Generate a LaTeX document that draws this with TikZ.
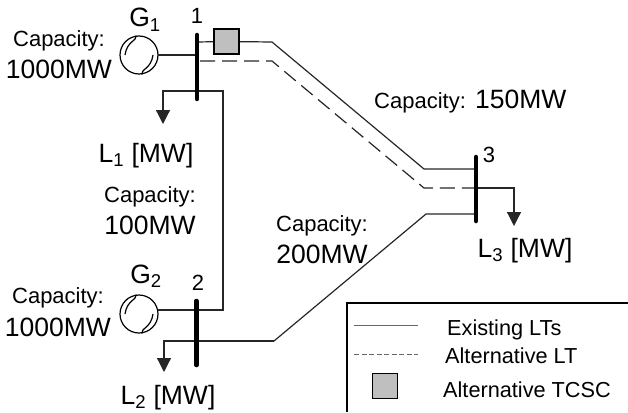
\documentclass[tikz,border=0pt]{standalone}
\usepackage{fontspec}
\setmainfont{Liberation Sans}
\usetikzlibrary{arrows.meta,calc}

\tikzset{
  line/.style={line width=1.2pt, black!85},
  altline/.style={line width=1.2pt, black!85, dash pattern=on 15pt off 7pt},
  busbar/.style={line width=4.5pt, line cap=round},
  load/.style={line, -{Triangle[length=14pt,width=14pt]}},
  gen/.style={draw, circle, line width=1.2pt, minimum size=38pt, inner sep=0pt},
  wave/.style={line width=1.2pt},
  tcsc/.style={draw, line width=1.3pt, fill=black!25, minimum size=25pt, inner sep=0pt},
  smalltxt/.style={font=\fontsize{22}{22}\selectfont, anchor=base, inner sep=0pt},
  bigtxt/.style={font=\fontsize{26.5}{26}\selectfont, anchor=base, inner sep=0pt},
  legtxt/.style={font=\fontsize{21.7}{22}\selectfont, anchor=base west, inner sep=0pt}
}

\begin{document}
\begin{tikzpicture}[x=1pt, y=-1pt, >=Latex]
  \useasboundingbox (0,0) rectangle (628,412);
  % generators
  \node[gen] (G1) at (139,55) {};
  \node[gen] (G2) at (139,314) {};
  \draw[wave] ($(G1)+(-14,0)$) .. controls ($(G1)+(-12,-14)$) and ($(G1)+(-2,-14)$) .. (G1)
    .. controls ($(G1)+(2,14)$) and ($(G1)+(12,14)$) .. ($(G1)+(14,0)$);
  \draw[wave] ($(G2)+(-14,0)$) .. controls ($(G2)+(-12,-14)$) and ($(G2)+(-2,-14)$) .. (G2)
    .. controls ($(G2)+(2,14)$) and ($(G2)+(12,14)$) .. ($(G2)+(14,0)$);
  % buses
  \coordinate (B1t) at (197,35);
  \coordinate (B1b) at (197,99);
  \coordinate (B2t) at (196.5,301);
  \coordinate (B2b) at (196.5,365);
  \coordinate (B3t) at (476,157);
  \coordinate (B3b) at (476,221);
  % lines
  \node[tcsc] (TC) at (226.5,41.5) {};
  \draw[line] (197,42) -- (TC);
  \draw[line] (TC) -- (272,42) -- (424,169) -- (476,169);
  \draw[altline] (200,61) -- (272,61) -- (424,188) -- (476,188);
  \draw[line] (158,55) -- (197,55);
  \draw[line] (197,91) -- (223,91) -- (223,310) -- (158,310);
  \draw[line] (476,214) -- (426,214) -- (274,341) -- (197,341);
  % loads
  \draw[load] (197,91) -- (163,91) -- (163,124);
  \draw[load] (274,341) -- (164,341) -- (164,372);
  \draw[load] (476,188) -- (514,188) -- (514,226);
  \draw[busbar] (B1t) -- (B1b);
  \draw[busbar] (B2t) -- (B2b);
  \draw[busbar] (B3t) -- (B3b);
  % labels
  \node[smalltxt] (cap1) at (59,47) {Capacity:};
  \node[bigtxt] (mw1) at (59,78) {1000MW};
  \node[bigtxt] (nG1) at (145,27) {G\textsubscript{1}};
  \node[smalltxt] (n1) at (197,24) {1};
  \node[bigtxt] (nL1) at (146,162) {L\textsubscript{1} [MW]};
  \node[smalltxt] (cap12) at (150,202) {Capacity:};
  \node[bigtxt] (mw12) at (150,234) {100MW};
  \node[smalltxt] (cap2) at (58,303) {Capacity:};
  \node[bigtxt] (mw2) at (58,336) {1000MW};
  \node[bigtxt] (nG2) at (146,283) {G\textsubscript{2}};
  \node[smalltxt] (n2) at (198,290) {2};
  \node[bigtxt] (nL2) at (168,404) {L\textsubscript{2} [MW]};
  \node[smalltxt] (cap23) at (322,231) {Capacity:};
  \node[bigtxt] (mw23) at (322,263) {200MW};
  \node[smalltxt, anchor=base west] (cap13) at (374,108) {Capacity:};
  \node[bigtxt, anchor=base west] (mw13) at (475,108) {150MW};
  \node[smalltxt] (n3) at (489,162) {3};
  \node[bigtxt] (nL3) at (525,257) {L\textsubscript{3} [MW]};
  % legend
  \coordinate (LgA) at (347,412);
  \coordinate (LgB) at (347,303);
  \coordinate (LgC) at (628,303);
  \draw[line width=1.2pt] (LgA) -- (LgB) -- (LgC);
  \coordinate (LgL1) at (354,325);
  \coordinate (LgL2) at (354,354);
  \draw[line width=0.6pt, black!60] (LgL1) -- ++(64,0);
  \draw[line width=0.6pt, black!60, dash pattern=on 5pt off 2.5pt] (LgL2) -- ++(64,0);
  \node[tcsc] (LgTC) at (385,386) {};
  \node[legtxt] (t1) at (447,335) {Existing LTs};
  \node[legtxt] (t2) at (445,363) {Alternative LT};
  \node[legtxt] (t3) at (443,397) {Alternative TCSC};
\end{tikzpicture}
\end{document}
